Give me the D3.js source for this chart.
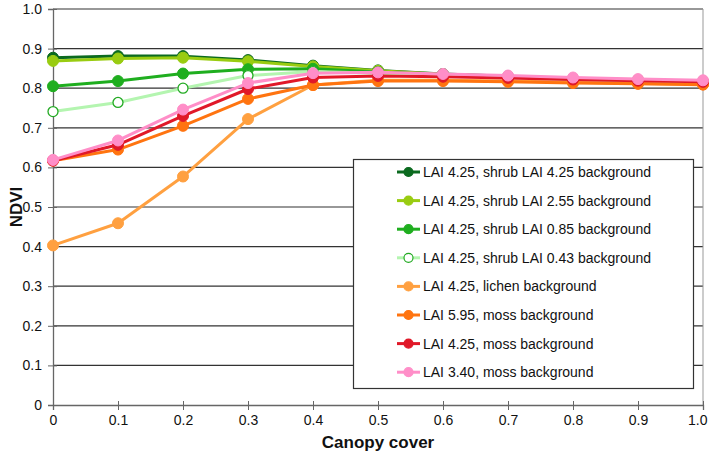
<!DOCTYPE html>
<html><head><meta charset="utf-8">
<script src="https://cdn.jsdelivr.net/npm/d3@7"></script>
<style>body{margin:0;background:#fff}svg{display:block}text{font-family:"Liberation Sans",Arial,sans-serif}</style>
</head><body>
<svg id="c" width="709" height="456"></svg>
<script>
const canopy = [0,0.1,0.2,0.3,0.4,0.5,0.6,0.7,0.8,0.9,1.0];
const xTickLabels = ["0","0.1","0.2","0.3","0.4","0.5","0.6","0.7","0.8","0.9","1.0"];
const yTickLabels = ["0","0.1","0.2","0.3","0.4","0.5","0.6","0.7","0.8","0.9","1.0"];
const seriesNames = [
  "LAI 4.25, shrub LAI 4.25 background",
  "LAI 4.25, shrub LAI 2.55 background",
  "LAI 4.25, shrub LAI 0.85 background",
  "LAI 4.25, shrub LAI 0.43 background",
  "LAI 4.25, lichen background",
  "LAI 5.95, moss background",
  "LAI 4.25, moss background",
  "LAI 3.40, moss background"
];
const shrub425 = [0.877,0.881,0.881,0.871,0.857,0.845,0.836,0.830,0.824,0.820,0.817];
const shrub255 = [0.869,0.875,0.877,0.868,0.855,0.844,0.835,0.829,0.824,0.820,0.816];
const shrub085 = [0.805,0.818,0.837,0.848,0.849,0.841,0.834,0.828,0.823,0.819,0.815];
const shrub043 = [0.741,0.764,0.800,0.832,0.842,0.838,0.832,0.827,0.822,0.818,0.814];
const lichen   = [0.403,0.459,0.577,0.722,0.808,0.820,0.820,0.818,0.815,0.812,0.810];
const moss595  = [0.617,0.645,0.705,0.773,0.808,0.818,0.818,0.816,0.813,0.811,0.809];
const moss425  = [0.617,0.657,0.730,0.798,0.827,0.831,0.829,0.826,0.822,0.819,0.816];
const moss340  = [0.619,0.668,0.746,0.813,0.838,0.840,0.836,0.832,0.827,0.823,0.820];
const seriesValues = [shrub425,shrub255,shrub085,shrub043,lichen,moss595,moss425,moss340];
const lineColors = ["#0b6a1f","#99cc11","#1fae1f","#b4f5b0","#ffa040","#ff7410","#e01828","#ff8ec8"];
const markerFill = ["#0b6a1f","#99cc11","#1fae1f","#ffffff","#ffa040","#ff7410","#e01828","#ff8ec8"];
const markerStroke = ["#0b6a1f","#99cc11","#1fae1f","#22aa22","#ffa040","#ff7410","#e01828","#ff8ec8"];

const svg = d3.select("#c");
const L = 53, R = 703, T = 9, B = 405;
const x = d3.scaleLinear().domain([0,1]).range([L,R]);
const y = d3.scaleLinear().domain([0,1]).range([B,T]);
const yTicks = d3.range(0,11).map(i=>i/10);

// gridlines
svg.append("g").selectAll("line").data(yTicks.slice(1)).join("line")
  .attr("x1",L).attr("x2",R).attr("y1",d=>y(d)).attr("y2",d=>y(d))
  .attr("stroke","#333").attr("stroke-width",1.2);
// right border
svg.append("line").attr("x1",R).attr("x2",R).attr("y1",T).attr("y2",B).attr("stroke","#999").attr("stroke-width",1);

// axes
const yAxis = d3.axisLeft(y).tickValues(yTicks).tickFormat((d,i)=>yTickLabels[i]).tickSize(5).tickPadding(6);
const gy = svg.append("g").attr("transform",`translate(${L},0)`).call(yAxis);
gy.selectAll("line").clone().attr("x2",4);
const xAxis = d3.axisBottom(x).tickValues(canopy).tickFormat((d,i)=>xTickLabels[i]).tickSize(5).tickPadding(5);
const gx = svg.append("g").attr("transform",`translate(0,${B})`).call(xAxis);
gx.selectAll("line").clone().attr("y2",-4);
[gx,gy].forEach(g=>{
  g.selectAll(".domain").attr("stroke","#666").attr("stroke-width",1.3);
  g.selectAll("line").attr("stroke","#666");
  g.selectAll("text").attr("font-size",14).attr("fill","#111").attr("font-family","Liberation Sans, Arial, sans-serif");
});
gx.selectAll(".tick").filter((d,i,n)=>i===n.length-1).select("text").attr("text-anchor","end").attr("dx",4);

svg.append("text").attr("x",(L+R)/2).attr("y",448).attr("text-anchor","middle")
  .attr("font-size",17).attr("font-weight","bold").attr("fill","#111").text("Canopy cover");
svg.append("text").attr("transform",`translate(22,${(T+B)/2}) rotate(-90)`).attr("text-anchor","middle")
  .attr("font-size",17).attr("font-weight","bold").attr("fill","#111").text("NDVI");

// series
const line = d3.line().x((d,i)=>x(canopy[i])).y(d=>y(d));
seriesValues.forEach((vals,s)=>{
  const g = svg.append("g");
  g.append("path").datum(vals).attr("d",line).attr("fill","none")
    .attr("stroke",lineColors[s]).attr("stroke-width",3).attr("stroke-linejoin","round");
  g.selectAll("circle").data(vals).join("circle")
    .attr("cx",(d,i)=>x(canopy[i])).attr("cy",d=>y(d)).attr("r",s===3?5:5.5)
    .attr("fill",markerFill[s]).attr("stroke",markerStroke[s]).attr("stroke-width",s===3?1.3:1);
});

// legend
const lg = svg.append("g");
lg.append("rect").attr("x",353.5).attr("y",159.5).attr("width",340).attr("height",229)
  .attr("fill","#fff").attr("stroke","#333").attr("stroke-width",1.2);
seriesNames.forEach((name,s)=>{
  const yy = 172 + s*28.6;
  lg.append("line").attr("x1",397).attr("x2",420).attr("y1",yy).attr("y2",yy)
    .attr("stroke",lineColors[s]).attr("stroke-width",3);
  lg.append("circle").attr("cx",408.5).attr("cy",yy).attr("r",4.5)
    .attr("fill",markerFill[s]).attr("stroke",markerStroke[s]).attr("stroke-width",1.2);
  lg.append("text").attr("x",423).attr("y",yy+5).attr("font-size",14).attr("fill","#111").text(name);
});
</script>
</body></html>
